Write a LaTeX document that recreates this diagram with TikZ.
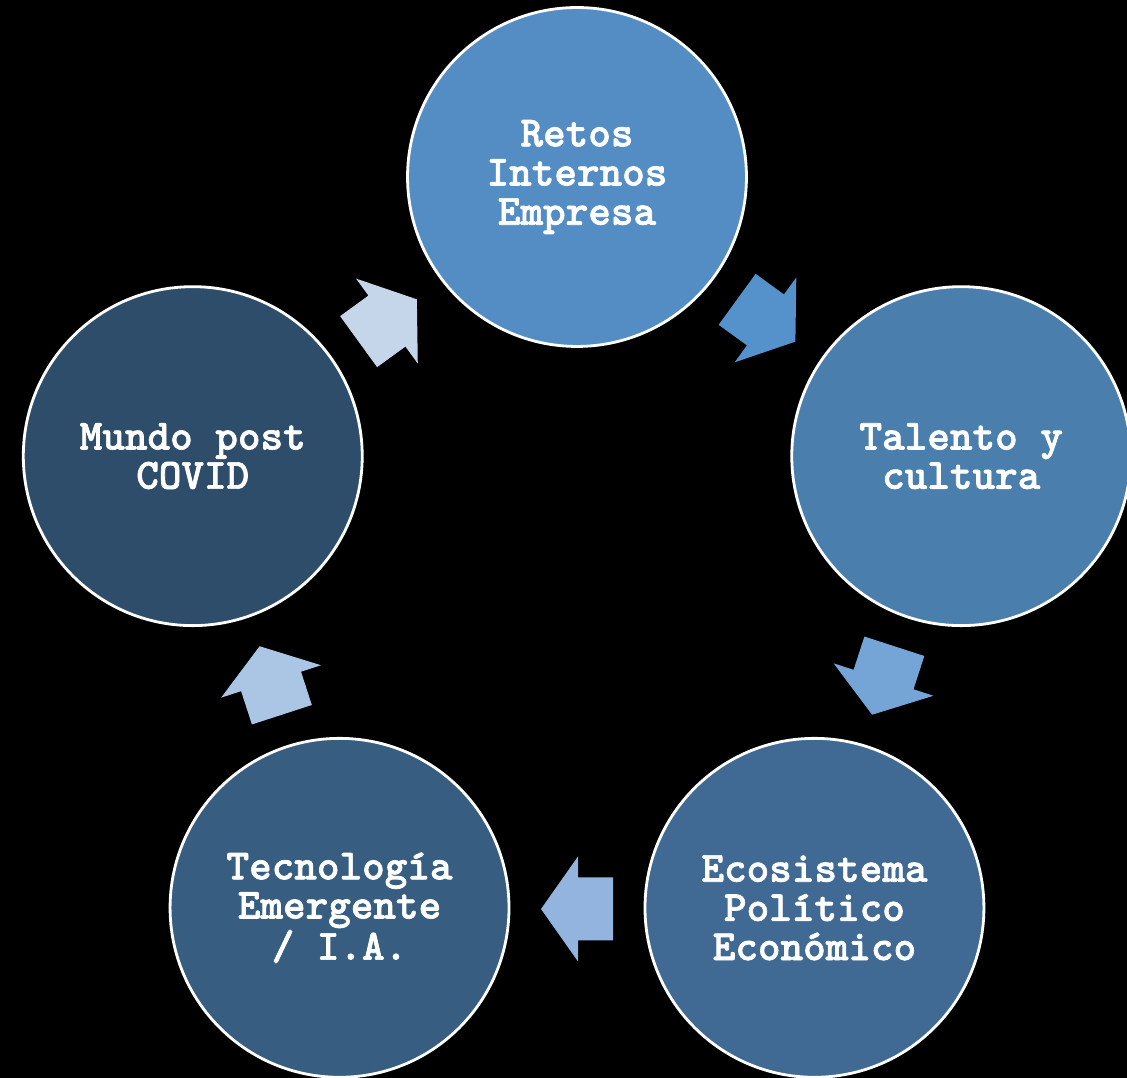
\documentclass[tikz,border=0pt]{standalone}
\usepackage{fontspec}
\newfontfamily\stagefont{lmmonolt10-bold}[Extension=.otf,FakeBold=1.6]
\usetikzlibrary{positioning,calc}

\definecolor{retosfill}{RGB}{84,141,196}
\definecolor{talentofill}{RGB}{74,126,173}
\definecolor{ecofill}{RGB}{64,106,148}
\definecolor{tecfill}{RGB}{55,93,128}
\definecolor{mundofill}{RGB}{46,77,106}
\definecolor{arrowA}{RGB}{85,146,204}
\definecolor{arrowB}{RGB}{117,165,214}
\definecolor{arrowC}{RGB}{146,180,222}
\definecolor{arrowD}{RGB}{171,198,228}
\definecolor{arrowE}{RGB}{197,214,235}

\begin{document}
\begin{tikzpicture}[x=0.02cm,y=0.02cm,
  stage/.style={circle,draw=white,line width=1.6pt,minimum size=6.78cm,inner sep=0pt,
    align=center,text=white,font=\stagefont\fontsize{24.5}{22.3}\selectfont},
  pics/cyclearrow/.style={code={
    \path[pic actions] (-36,-31.5) -- (-1,-31.5) -- (-1,-52.5) -- (36,0)
      -- (-1,52.5) -- (-1,31.5) -- (-36,31.5) -- cycle;}}]
  % Background
  \fill[black] (0,0) rectangle (1127,1078);
  \useasboundingbox (0,0) rectangle (1127,1078);
  \coordinate (hub) at (577,497);

  % Stages of the cycle
  \node[stage,fill=retosfill] (retos) at ($(hub)+(90:404)$) {Retos\\Internos\\Empresa};
  \node[stage,fill=talentofill] (talento) at ($(hub)+(18:404)$) {Talento y\\cultura};
  \node[stage,fill=ecofill] (eco) at ($(hub)+(-54:404)$) {Ecosistema\\Político\\Económico};
  \node[stage,fill=tecfill] (tec) at ($(hub)+(-126:404)$) {Tecnología\\Emergente\\/ I.A.};
  \node[stage,fill=mundofill] (mundo) at ($(hub)+(162:404)$) {Mundo post\\COVID};

  % Block arrows between stages
  \pic[fill=arrowA,rotate=-36] at ($(hub)+(54:322)$) {cyclearrow};
  \pic[fill=arrowB,rotate=-108] at ($(hub)+(-18:322)$) {cyclearrow};
  \pic[fill=arrowC,rotate=180] at ($(hub)+(-90:328)$) {cyclearrow};
  \pic[fill=arrowD,rotate=108] at ($(hub)+(-162:322)$) {cyclearrow};
  \pic[fill=arrowE,rotate=36] at ($(hub)+(126:322)$) {cyclearrow};
\end{tikzpicture}
\end{document}
